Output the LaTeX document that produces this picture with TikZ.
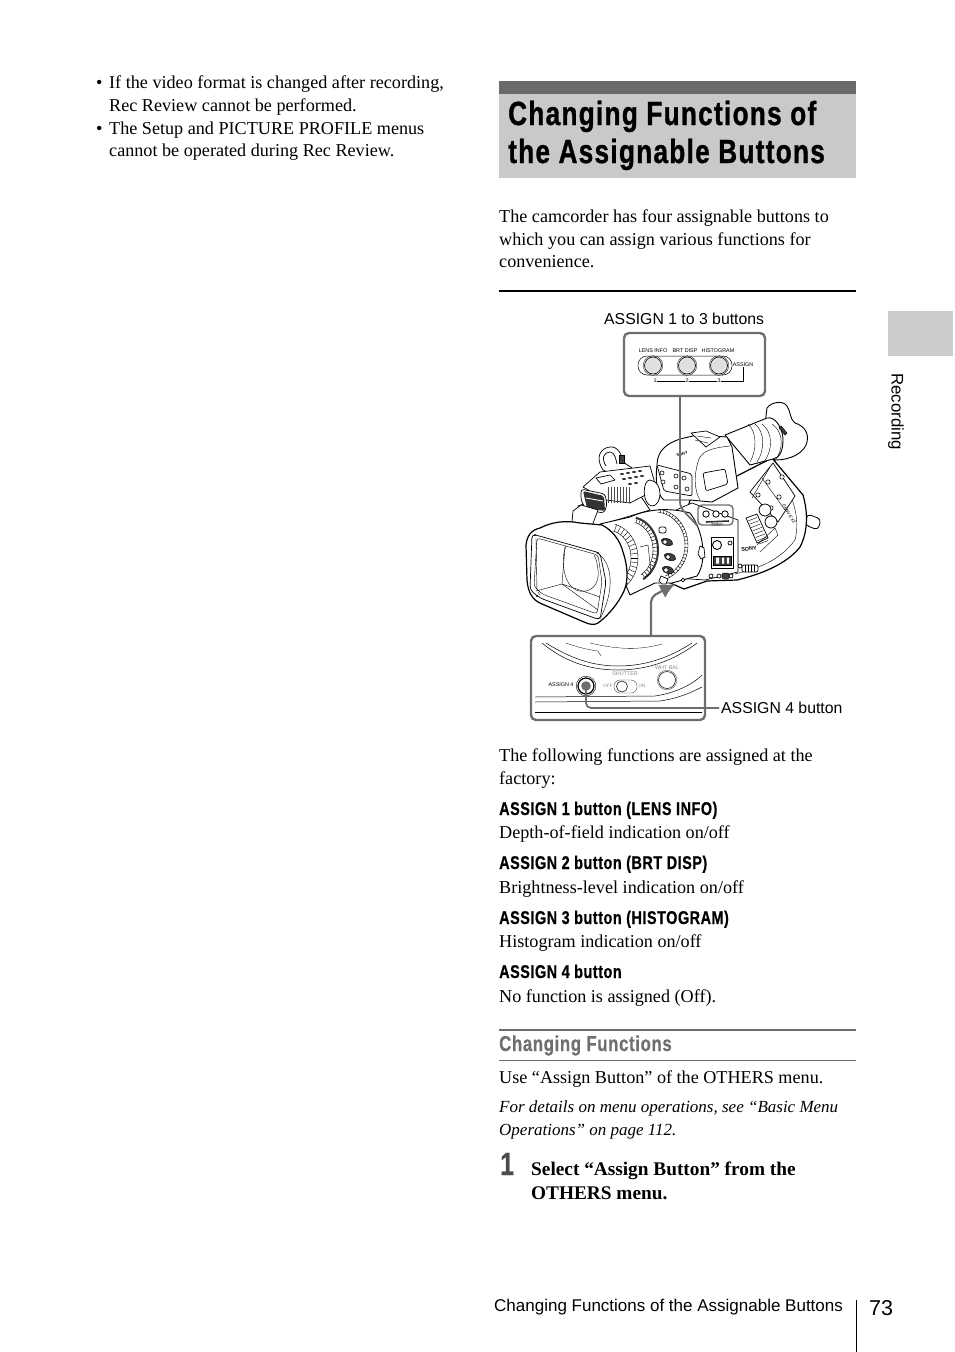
\documentclass[tikz,border=0pt]{standalone}
\usepackage{fontspec}
\setmainfont{Liberation Serif}
\setsansfont{Liberation Sans}
\newfontfamily\condfont[FakeStretch=0.78,LetterSpace=2.8,BoldFeatures={FakeBold=0.5}]{Liberation Sans}
\newfontfamily\titlefont[FakeStretch=0.78,LetterSpace=3.9,BoldFeatures={FakeBold=1}]{Liberation Sans}
\usetikzlibrary{
    arrows.meta,
    calc,
    positioning
}
\definecolor{bandgray}{HTML}{C9C9C9}
\definecolor{stripgray}{HTML}{6A6A6A}
\definecolor{tabgray}{HTML}{CCCCCC}
\definecolor{panelgray}{HTML}{6E6E6E}
\definecolor{headgray}{HTML}{6F6F6F}
\tikzset{
    bodytext/.style={anchor=base west, inner sep=0pt, font=\fontsize{18.15}{21}\selectfont},
    noteitalic/.style={anchor=base west, inner sep=0pt, font=\fontsize{17}{20}\selectfont\itshape},
    subhead/.style={anchor=base west, inner sep=0pt, font=\condfont\bfseries\fontsize{18.5}{22}\selectfont},
    stephead/.style={anchor=base west, inner sep=0pt, font=\fontsize{19.3}{22}\selectfont\bfseries},
    titletext/.style={anchor=base west, inner sep=0pt, font=\titlefont\bfseries\fontsize{33.5}{38}\selectfont},
    calloutlbl/.style={anchor=base west, inner sep=0pt, font=\sffamily\fontsize{15.8}{18}\selectfont},
    footlbl/.style={anchor=base west, inner sep=0pt, font=\sffamily\fontsize{17}{20}\selectfont},
    tinylbl/.style={inner sep=0pt, font=\sffamily\fontsize{5.4}{6}\selectfont},
    tinygray/.style={tinylbl, text=black!45},
    panelbox/.style={draw=panelgray, line width=2.4pt, rounded corners=5pt, fill=white, inner sep=0pt},
    graylead/.style={draw=panelgray, line width=2.4pt, rounded corners=5pt},
    camline/.style={draw=black, line width=0.7pt, fill=white, line join=round},
    camthin/.style={draw=black, line width=0.4pt},
    camheavy/.style={draw=black, line width=1.2pt, fill=white, line join=round},
    darkpart/.style={draw=black, line width=0.5pt, fill=black!75}
}
\begin{document}
\begin{tikzpicture}[x=1pt, y=-1pt]
    \useasboundingbox (0, 0) rectangle (954, 1352);

    % left column
    \node[bodytext] (bulletone) at (96, 88) {•};
    \node[bodytext] (lineone) at (109, 88) {If the video format is changed after recording,};
    \node[bodytext] (linetwo) at (109, 111) {Rec Review cannot be performed.};
    \node[bodytext] (bullettwo) at (96, 134) {•};
    \node[bodytext] (linethree) at (109, 134) {The Setup and PICTURE PROFILE menus};
    \node[bodytext] (linefour) at (109, 156) {cannot be operated during Rec Review.};

    % title band
    \fill[bandgray] (499, 81) rectangle (856, 178);
    \fill[stripgray] (499, 81) rectangle (856, 94);
    \node[titletext] (titleone) at (508, 125) {Changing Functions of};
    \node[titletext] (titletwo) at (508, 163) {the Assignable Buttons};

    \node[bodytext] (introone) at (499, 222) {The camcorder has four assignable buttons to};
    \node[bodytext] (introtwo) at (499, 245) {which you can assign various functions for};
    \node[bodytext] (introthree) at (499, 267) {convenience.};
    \draw[line width=1.6pt] (499, 291) -- (856, 291);

    % side tab
    \fill[tabgray] (888, 311) rectangle (953, 356);
    \node[inner sep=0pt, rotate=-90, font=\sffamily\fontsize{16.8}{18}\selectfont] (sidetab) at (896, 411.5) {Recording};

    % camcorder: strap knob, side panel
    \draw[darkpart, fill=white, line width=0.8pt, rounded corners=4pt] (807, 514) -- (821, 519) -- (818, 530) -- (805, 525) -- cycle;
    \draw[camheavy] (772, 458) -- (803, 495) .. controls (808, 512) and (808, 532) .. (800, 547)
        .. controls (790, 560) and (770, 572) .. (737, 580) -- (707, 581) -- (684, 589) -- (668, 582)
        -- (690, 500) -- cycle;
    \draw[camthin] (775, 470) .. controls (795, 495) and (800, 520) .. (795, 540);
    \draw[camthin] (795, 540) .. controls (780, 560) and (760, 568) .. (735, 574);
    \draw[camline] (750, 492) -- (773, 463) -- (795, 496) -- (778, 522) -- cycle;
    \draw[camthin] (762, 478) -- (785, 510) (770, 467) -- (752, 498);
    \foreach \kx/\ky in {768/482, 779/497, 758/495, 771/508, 782/477} {
        \draw[camline, line width=0.6pt] (\kx, \ky) circle (2.2);
    }
    \draw[camline, line width=0.8pt] (765, 510) circle (6);
    \draw[camline, line width=0.8pt] (771, 522) circle (6);
    \draw[camline] (746, 518) -- (757, 514) -- (768, 538) -- (757, 543) -- cycle;
    \foreach \ks in {0, 1, ..., 7} {
        \draw[camthin] ($(748, 521)!\ks/7!(759, 544)$) -- ++(9, -3.5);
    }
    \draw[camthin] (757, 545) -- (775, 528) -- (778, 535) -- (760, 552);
    \node[tinylbl, rotate=-58, font=\sffamily\itshape\fontsize{4.5}{5}\selectfont] (sidemark) at (789, 514) {PMW-EX3};
    \node[inner sep=0pt, rotate=8, font=\sffamily\bfseries\fontsize{5.5}{6}\selectfont] (sonyside) at (749, 549) {SONY};
    \draw[camline, rounded corners=2pt] (742, 565) rectangle (758, 572);
    \foreach \kx in {745, 748, 751, 754} { \draw[camthin] (\kx, 565) -- (\kx, 572); }
    \draw[camline] (740, 566) circle (2);

    % camcorder: body front panel
    \draw[camline] (692, 503) -- (738, 520) -- (738, 572) -- (705, 580) -- (676, 578) -- (676, 510) -- cycle;
    \foreach \kx in {706, 716, 725} { \draw[camline, line width=0.8pt] (\kx, 514) circle (3.2); }
    \node[inner sep=0pt, font=\sffamily\bfseries\fontsize{4}{5}\selectfont] (hdmark) at (717, 525) {SONY};
    \draw[black!80, line width=1.6pt] (706, 522) -- (729, 521);
    \draw[camline] (711, 537) rectangle (733, 568);
    \draw[camline, line width=0.9pt] (717, 545) circle (4.5);
    \draw[camline] (730, 543) circle (2);
    \draw[darkpart] (713, 556) rectangle (731, 565);
    \fill[white] (716, 557.5) rectangle (719, 563.5) (722, 557.5) rectangle (724, 563.5) (727, 557.5) rectangle (729, 563.5);
    \foreach \kx in {711, 719, 731} { \draw[camline] (\kx, 576) circle (2); }
    \draw[darkpart, rounded corners=2pt] (722, 573) rectangle (729, 579);

    % camcorder: viewfinder and eyepiece
    \draw[camline, line width=0.9pt] (767, 408) .. controls (771, 402) and (783, 400) .. (787, 406)
        .. controls (791, 412) and (790, 420) .. (795, 423) .. controls (805, 426) and (809, 434) .. (807, 442)
        .. controls (805, 452) and (792, 460) .. (775, 460) -- (763, 440) -- cycle;
    \draw[camline, line width=0.9pt] (725, 435) -- (767, 418) .. controls (775, 416) and (783, 428) .. (783, 440)
        .. controls (783, 450) and (780, 458) .. (773, 459) -- (750, 465) -- cycle;
    \foreach \kx/\kr in {748/9, 755/10, 762/11, 772/12} {
        \draw[camthin] (\kx, 424) .. controls (\kx+\kr, 432) and (\kx+\kr, 450) .. (\kx+2, 462);
    }
    \draw[darkpart] (781, 426) -- (787, 433) -- (785, 435) -- (779, 428) -- cycle;
    \draw[camline, line width=0.9pt] (657, 465) .. controls (657, 450) and (668, 443) .. (680, 439)
        -- (697, 435) -- (727, 437) -- (732, 447) -- (738, 488) -- (712, 502) -- (690, 500) -- (664, 500)
        .. controls (657, 495) and (655, 480) .. (657, 465) -- cycle;
    \draw[camline] (691, 433) -- (706, 431) -- (720, 437) -- (706, 447) -- cycle;
    \draw[camthin] (697, 436) -- (711, 438) (695, 440) -- (708, 443);
    \draw[camthin] (698, 462) .. controls (700, 452) and (710, 448) .. (730, 446);
    \draw[camthin] (698, 462) .. controls (694, 475) and (694, 490) .. (700, 500);
    \draw[camline, rounded corners=2pt] (703, 473) -- (725, 469) -- (728, 484) -- (706, 491) -- cycle;
    \node[inner sep=0pt, rotate=14, font=\sffamily\bfseries\fontsize{4}{5}\selectfont] (sonytop) at (682, 454) {SONY};
    \draw[camline, rounded corners=2pt] (657, 465) -- (692, 474) -- (692, 496) -- (664, 491) -- cycle;
    \foreach \kx/\ky in {662/473, 676/476, 684/478, 663/482, 676/487, 687/489} {
        \draw[camline, line width=0.6pt] (\kx, \ky) circle (2);
    }

    % camcorder: top handle, mic holder, grille
    \draw[camline] (603, 470) .. controls (595, 458) and (600, 448) .. (610, 447)
        .. controls (618, 446) and (622, 455) .. (623, 462) -- (632, 468) -- (612, 474) -- cycle;
    \draw[camline] (606, 466) .. controls (601, 458) and (604, 452) .. (610, 452) .. controls (615, 452) and (616, 460) .. (617, 464);
    \draw[darkpart] (619, 455) rectangle (624, 463);
    \draw[camline] (580, 518) -- (578, 506) -- (600, 498) -- (640, 495) -- (650, 510) -- (590, 528) -- cycle;
    \draw[camline] (600, 472) -- (650, 466) -- (654, 480) -- (655, 490) -- (630, 503) -- (606, 500) -- (583, 487) -- cycle;
    \foreach \kx/\ky in {622/474, 628/473, 634/472, 640/471, 624/479, 630/478, 636/477, 642/476, 630/484, 636/483} {
        \fill[black!80] (\kx, \ky) ellipse (2 and 1);
    }
    \draw[camline] (596, 478) -- (610, 475) -- (615, 480) -- (601, 484) -- cycle;
    \draw[camline, rounded corners=3pt] (581, 489) -- (605, 494) -- (607, 505) -- (604, 513) -- (586, 510) -- (581, 500) -- cycle;
    \fill[black!80, rounded corners=2pt] (583, 491) -- (604, 496) -- (605, 511) -- (587, 508) -- cycle;
    \draw[white, line width=0.9pt] (586, 498) -- (603, 501);
    \foreach \kx in {608, 611, ..., 629} {
        \draw[black!70, line width=0.6pt] (\kx, 487) -- (\kx, 503);
    }
    \draw[camline] (650, 480) .. controls (642, 480) and (642, 505) .. (652, 506) .. controls (662, 506) and (664, 482) .. (650, 480) -- cycle;
    \draw[camline] (572, 522) -- (573, 511) -- (581, 505) -- (598, 510) -- (592, 526) -- cycle;

    % camcorder: lens barrel
    \draw[camheavy, line width=0.9pt] (600, 524) -- (630, 517) .. controls (650, 508) and (672, 508) .. (690, 513)
        .. controls (703, 530) and (708, 560) .. (697, 576) -- (672, 583) -- (655, 583) -- (630, 595) -- cycle;
    \draw[camthin] plot[domain=-85:70, samples=24, smooth] ({655+33*cos(\x)}, {545+36*sin(\x)});
    \draw[camthin] plot[domain=-85:70, samples=24, smooth] ({655+30*cos(\x)}, {545+33*sin(\x)});
    \foreach \tang in {-80, -74, ..., 66} {
        \draw[camthin] ({655+33*cos(\tang)}, {545+36*sin(\tang)}) -- ({655+30*cos(\tang)}, {545+33*sin(\tang)});
    }
    % knurled rings
    \draw[black!80, line width=2pt] plot[domain=-78:62, samples=24, smooth] ({630+28*cos(\x)}, {550+33*sin(\x)});
    \foreach \tang in {-75, -68, ..., 60} {
        \draw[black!80, line width=0.6pt] ({630+28*cos(\tang)}, {550+33*sin(\tang)}) -- ({630+23*cos(\tang)}, {550+28*sin(\tang)});
    }
    \draw[camthin] plot[domain=-78:62, samples=24, smooth] ({630+23*cos(\x)}, {550+28*sin(\x)});
    \draw[camthin] plot[domain=-75:68, samples=24, smooth] ({607+31*cos(\x)}, {558+35*sin(\x)});
    \draw[camthin] plot[domain=-75:68, samples=24, smooth] ({607+24*cos(\x)}, {558+28*sin(\x)});
    \foreach \tang in {-72, -64, ..., 64} {
        \draw[camthin] ({607+31*cos(\tang)}, {558+35*sin(\tang)}) -- ({607+24*cos(\tang)}, {558+28*sin(\tang)});
    }
    \draw[camthin] (640, 547) -- (648, 545) -- (651, 573) -- (645, 577);
    % switches on the barrel
    \draw[camline, rounded corners=2pt] (659, 527) rectangle (666, 533);
    \foreach \swy/\swx in {542/667, 557/670, 570/668} {
        \draw[darkpart, rotate around={-20:(\swx, \swy)}] (\swx, \swy) ellipse (6 and 3.4);
        \draw[camline, line width=0.5pt] (\swx-2, \swy) circle (2.2);
    }
    \draw[camline] (661, 576) -- (668, 579) -- (666, 584) -- (662, 584) -- (659, 581) -- cycle;
    \draw[camline] (683, 580) circle (1.8);
    \draw[camline] (700, 546) -- (704, 548) -- (705, 557) -- (701, 559) -- (698, 554) -- cycle;

    % camcorder: lens hood
    \draw[camheavy] (526, 545) .. controls (527, 536) and (531, 530) .. (540, 528)
        .. controls (552, 522) and (565, 520) .. (580, 523) -- (602, 525)
        .. controls (612, 530) and (620, 540) .. (623, 552) .. controls (629, 570) and (628, 585) .. (622, 595)
        .. controls (615, 608) and (605, 618) .. (598, 623) .. controls (595, 625) and (590, 625) .. (584, 622)
        -- (542, 604) .. controls (532, 600) and (528, 592) .. (527, 580) -- cycle;
    \draw[camline, rounded corners=4pt] (532, 534) -- (600, 553) -- (606, 582) -- (600, 620) -- (540, 598) -- (530, 590) -- cycle;
    \draw[camthin, rounded corners=3pt] (537, 538) -- (598, 555) -- (602, 582) -- (597, 614) -- (542, 594) -- (534, 586) -- cycle;
    \draw[camthin] (540, 595) -- (538, 592) (600, 555) .. controls (612, 565) and (615, 590) .. (600, 619);
    \draw[camthin] (536, 591) -- (562, 584) -- (600, 597);
    \draw[camthin] (536, 538) -- (537, 591) (565, 547) -- (562, 584) -- (598, 610);
    \draw[camthin] (566, 546) .. controls (560, 560) and (564, 585) .. (576, 590)
        .. controls (590, 595) and (600, 585) .. (598, 570) .. controls (597, 562) and (596, 558) .. (594, 555);
    \draw[camthin] (535, 535) circle (0.9) (598, 553) circle (0.9) (537, 596) circle (0.9);

    % top callout panel
    \node[calloutlbl] (upperlbl) at (604, 324) {ASSIGN 1 to 3 buttons};
    \node[draw=panelgray, line width=1.4pt, rounded corners=4pt, minimum width=35pt, minimum height=20pt, inner sep=0pt] (upperspot) at (715.5, 515) {};
    \coordinate (upperfoot) at (680, 507);
    \node[panelbox, minimum width=141pt, minimum height=63pt] (upperpanel) at (694.5, 364.5) {};
    \draw[graylead, line width=1.8pt] (upperpanel.south -| upperfoot) -- (upperfoot) -- (upperspot.south west);
    \node[tinylbl] (lensinfo) at (653, 350.5) {LENS INFO};
    \node[tinylbl] (brtdisp) at (685, 350.5) {BRT DISP};
    \node[tinylbl] (histogram) at (718, 350.5) {HISTOGRAM};
    \draw[line width=0.5pt, rounded corners=9pt] (638, 356) rectangle (732, 375);
    \foreach \bx/\bn in {653/btnone, 687/btntwo, 719/btnthree} {
        \node[draw, circle, line width=0.6pt, fill=black!12, minimum size=17pt, inner sep=0pt] (\bn) at (\bx, 365.5) {};
        \draw[line width=0.3pt] (\bn) circle (9.8);
    }
    \node[tinylbl] (assignlbl) at (743, 365) {ASSIGN};
    \node[tinylbl] (numone) at (655, 381) {1};
    \node[tinylbl] (numtwo) at (687, 381) {2};
    \node[tinylbl] (numthree) at (719, 381) {3};
    \draw[line width=0.6pt] (numone) -- (numtwo) (numtwo) -- (numthree);
    \draw[line width=0.6pt] (numthree) -| (assignlbl);

    % bottom callout panel
    \node[panelbox, minimum width=174pt, minimum height=84pt] (lowerpanel) at (618, 678) {};
    \coordinate (lowerbend) at (651, 597);
    \coordinate (lowertip) at (675, 584);
    \draw[graylead, -{Latex[length=15pt, width=15pt]}, line width=2.2pt] (lowerpanel.north -| lowerbend) -- (lowerbend) -- (lowertip);
    \draw[line width=0.5pt] (542, 643) .. controls (565, 662) and (590, 670) .. (618, 670) .. controls (648, 670) and (675, 660) .. (697, 643);
    \draw[line width=0.5pt] (546, 643) .. controls (570, 658) and (592, 666) .. (618, 666) .. controls (648, 666) and (672, 656) .. (692, 643);
    \draw[line width=0.3pt] (566, 643) .. controls (580, 648) and (590, 650) .. (598, 651) -- (601, 656);
    \draw[line width=0.3pt] (590, 643) .. controls (620, 650) and (640, 650) .. (662, 644);
    \draw[line width=0.5pt] (535, 697) -- (655, 696) .. controls (675, 693) and (692, 685) .. (702, 675);
    \draw[line width=0.5pt] (535, 702) -- (660, 701) .. controls (680, 698) and (692, 692) .. (702, 687);
    \draw[line width=0.5pt] (535, 712) -- (702, 712);
    \node[tinylbl] (assignfour) at (561, 685) {ASSIGN 4};
    \node[draw, circle, line width=1.2pt, minimum size=16pt, inner sep=0pt, fill=white] (btnfour) at (586, 686) {};
    \draw[line width=0.4pt] (btnfour) circle (9.8);
    \fill[panelgray] (btnfour) circle (4.8);
    \node[tinygray] (shutterlbl) at (625, 674) {SHUTTER};
    \node[tinygray, font=\sffamily\fontsize{4.6}{5}\selectfont] (offlbl) at (608, 686) {OFF};
    \node[tinygray, font=\sffamily\fontsize{4.6}{5}\selectfont] (onlbl) at (642, 686) {ON};
    \draw[black!70, line width=0.4pt, rounded corners=6pt] (614, 680) rectangle (637, 693);
    \node[draw=black!80, circle, line width=0.7pt, minimum size=11pt, inner sep=0pt] (shutterbtn) at (622, 686.5) {};
    \node[tinygray] (whtlbl) at (667, 668) {WHT BAL};
    \node[draw=black!80, circle, line width=0.7pt, minimum size=17pt, inner sep=0pt] (whtbtn) at (667, 680) {};
    \draw[black!80, line width=0.3pt] (whtbtn) circle (9.8);
    \node[calloutlbl] (lowerlbl) at (721, 713) {ASSIGN 4 button};
    \coordinate (lowerleadend) at (719, 708);
    \draw[graylead, line width=1.8pt] (btnfour.center) |- (lowerleadend);

    % text below the picture
    \node[bodytext] (factoryone) at (499, 761) {The following functions are assigned at the};
    \node[bodytext] (factorytwo) at (499, 784) {factory:};
    \node[subhead] (headone) at (499, 815) {ASSIGN 1 button (LENS INFO)};
    \node[bodytext] (textone) at (499, 838) {Depth-of-field indication on/off};
    \node[subhead] (headtwo) at (499, 869) {ASSIGN 2 button (BRT DISP)};
    \node[bodytext] (texttwo) at (499, 893) {Brightness-level indication on/off};
    \node[subhead] (headthree) at (499, 924) {ASSIGN 3 button (HISTOGRAM)};
    \node[bodytext] (textthree) at (499, 947) {Histogram indication on/off};
    \node[subhead] (headfour) at (499, 978) {ASSIGN 4 button};
    \node[bodytext] (textfour) at (499, 1002) {No function is assigned (Off).};

    \draw[panelgray, line width=2pt] (499, 1029.5) -- (856, 1029.5);
    \node[subhead, text=headgray, font=\condfont\bfseries\fontsize{21.6}{26}\selectfont] (sectionhead) at (499, 1051) {Changing Functions};
    \draw[panelgray, line width=0.8pt] (499, 1060.5) -- (856, 1060.5);
    \node[bodytext] (usemenu) at (499, 1083) {Use “Assign Button” of the OTHERS menu.};
    \node[noteitalic] (noteone) at (499, 1112) {For details on menu operations, see “Basic Menu};
    \node[noteitalic] (notetwo) at (499, 1135) {Operations” on page 112.};
    \node[anchor=base west, inner sep=0pt, text=black!70, font=\condfont\bfseries\fontsize{32}{34}\selectfont] (stepnum) at (500, 1175) {1};
    \node[stephead] (stepone) at (531, 1175) {Select “Assign Button” from the};
    \node[stephead] (steptwo) at (531, 1199) {OTHERS menu.};

    % footer
    \node[footlbl] (footer) at (494, 1311) {Changing Functions of the Assignable Buttons};
    \draw[line width=0.8pt] (856.5, 1300) -- (856.5, 1352);
    \node[anchor=base west, inner sep=0pt, font=\sffamily\fontsize{21.5}{24}\selectfont] (pagenum) at (869, 1315) {73};
\end{tikzpicture}
\end{document}
